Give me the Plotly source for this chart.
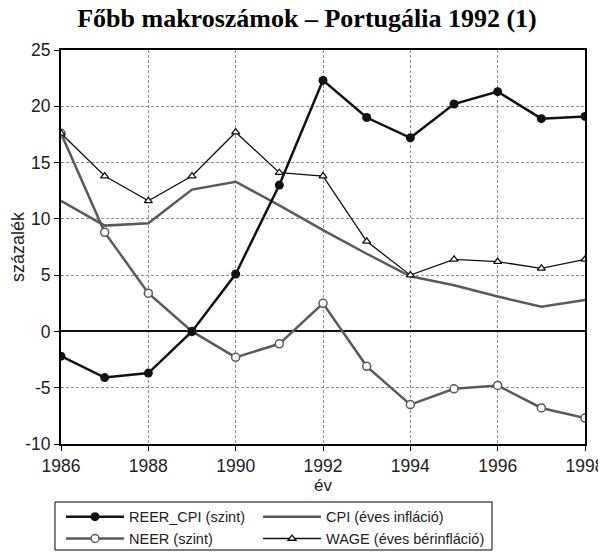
import plotly.graph_objects as go

years = list(range(1986, 1999))
reer_cpi = [-2.2, -4.1, -3.7, 0.0, 5.1, 13.0, 22.3, 19.0, 17.2, 20.2, 21.3, 18.9, 19.1]
neer = [17.6, 8.8, 3.4, 0.0, -2.3, -1.1, 2.5, -3.1, -6.5, -5.1, -4.8, -6.8, -7.7]
cpi = [11.6, 9.4, 9.6, 12.6, 13.3, 11.2, 9.0, 6.9, 4.9, 4.1, 3.1, 2.2, 2.8]
wage = [17.6, 13.8, 11.6, 13.8, 17.7, 14.1, 13.8, 8.0, 5.0, 6.4, 6.2, 5.6, 6.4]
x_ticks = [1986, 1988, 1990, 1992, 1994, 1996, 1998]
y_ticks = [-10, -5, 0, 5, 10, 15, 20, 25]

GRAY = "#5a5a5a"
DARK = "#111111"

fig = go.Figure()
fig.add_trace(go.Scatter(x=years, y=cpi, name="CPI (éves infláció)", mode="lines",
                         line=dict(color=GRAY, width=2.5), legend="legend2", legendrank=1))
fig.add_trace(go.Scatter(x=years, y=neer, name="NEER (szint)", mode="lines+markers",
                         line=dict(color=GRAY, width=2.5),
                         marker=dict(symbol="circle", size=8, color="white",
                                     line=dict(color=GRAY, width=1.5)),
                         legend="legend", legendrank=2))
fig.add_trace(go.Scatter(x=years, y=wage, name="WAGE (éves bérinfláció)", mode="lines+markers",
                         line=dict(color=DARK, width=1.3),
                         marker=dict(symbol="triangle-up", size=7, color="white",
                                     line=dict(color=DARK, width=1.3)),
                         legend="legend2", legendrank=2))
fig.add_trace(go.Scatter(x=years, y=reer_cpi, name="REER_CPI (szint)", mode="lines+markers",
                         line=dict(color=DARK, width=2.5),
                         marker=dict(symbol="circle", size=9, color=DARK),
                         legend="legend", legendrank=1))

leg_common = dict(orientation="v", yanchor="bottom", xanchor="left",
                  bgcolor="rgba(0,0,0,0)", borderwidth=0,
                  font=dict(size=14.5, color="#222222"),
                  traceorder="normal", tracegroupgap=0, itemwidth=58)

fig.update_layout(
    width=598, height=544,
    margin=dict(l=53, r=21, t=42, b=108, autoexpand=False),
    paper_bgcolor="white", plot_bgcolor="white",
    title=dict(text="<b>Főbb makroszámok – Portugália 1992 (1)</b>",
               font=dict(family="Liberation Serif, Times New Roman, serif", size=26, color="black"),
               x=0.5, xanchor="center", y=0.982, yanchor="middle"),
    font=dict(family="Liberation Sans, Arial, sans-serif", color="#222222"),
    legend=dict(x=0.0, y=-0.281, **leg_common),
    legend2=dict(x=0.376, y=-0.281, **leg_common),
    showlegend=True,
    shapes=[dict(type="rect", xref="paper", yref="paper",
                 x0=-0.0115, x1=0.8225, y0=-0.269, y1=-0.1472,
                 line=dict(color="black", width=1), fillcolor="rgba(0,0,0,0)", layer="above")],
)
fig.update_xaxes(range=[1986, 1998], tickvals=x_ticks, ticktext=[str(v) for v in x_ticks],
                 showgrid=True, gridcolor="#8f8f8f", griddash="3px,2px", gridwidth=1,
                 showline=True, linecolor="black", linewidth=2, mirror=True,
                 ticks="outside", ticklen=5, tickcolor="black",
                 tickfont=dict(size=17.5, color="#222222"), automargin=False,
                 title=dict(text="év", font=dict(size=17, color="#222222"), standoff=4),
                 zeroline=False)
fig.update_yaxes(range=[-10, 25], tickvals=y_ticks, ticktext=[str(v) for v in y_ticks],
                 showgrid=True, gridcolor="#8f8f8f", griddash="3px,2px", gridwidth=1,
                 showline=True, linecolor="black", linewidth=2, mirror=True,
                 ticks="outside", ticklen=5, tickcolor="black",
                 tickfont=dict(size=17.5, color="#222222"), automargin=False,
                 title=dict(text="százalék", font=dict(size=18, color="#222222"), standoff=0),
                 zeroline=True, zerolinecolor=DARK, zerolinewidth=1.5)

fig.write_html("out.html")
